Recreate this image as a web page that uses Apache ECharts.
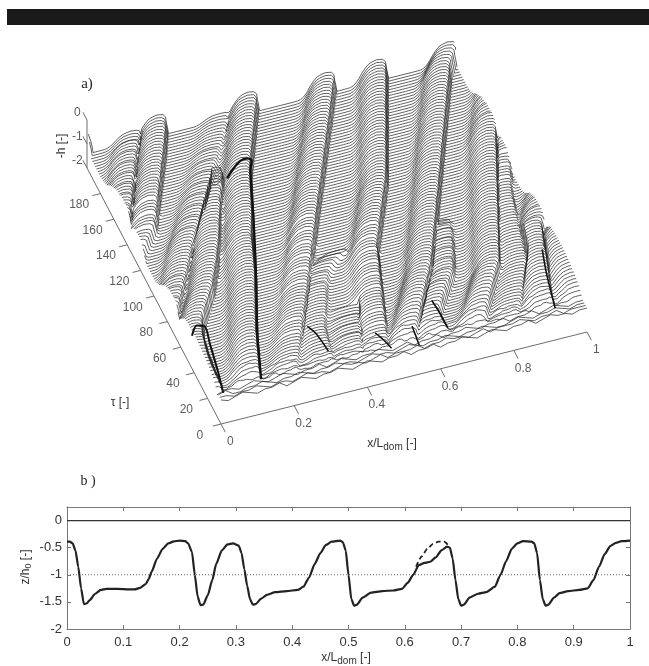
<!DOCTYPE html>
<html><head><meta charset="utf-8"><style>html,body{margin:0;padding:0;background:#fff}#c{width:649px;height:666px}</style>
<script src="https://cdn.jsdelivr.net/npm/echarts@6/dist/echarts.min.js"></script></head>
<body><div id="c"></div><script>
// PANEL A IS A RECONSTRUCTION. Each ridge's lee-face position per row
// (x/L in thousandths, rows every 2 tau from tau=8) and its crest height (tenths above z=-2, every 8 tau).
// Every row curve is then assembled from one shared profile (stossDx/stossH, wakeDx/wakeH)
// placed at those positions, so individual row curves are not traced point by point.
const frontRows = [ // tau 0,2,4,6: nearly flat, rough front rows
[10,9,10,11,10,9,10,10,11,9,10,11,10,9,10,10,11,10,9,10,11,10,9,10,10,11,9,10,10,11,9,10,10,11,10,9,10,11,10,9,10,10,11,9,10,11,10,10,9,10,10],
[10,10,9,10,10,11,10,9,10,10,9,10,11,10,10,9,10,11,10,10,9,10,11,9,10,10,10,11,9,10,10,11,10,10,9,10,11,9,10,10,10,11,10,9,10,10,11,9,10,10,10],
[10,11,9,9,10,10,11,10,9,10,10,11,10,9,10,10,11,10,10,9,10,11,10,10,9,10,11,10,9,10,10,11,10,9,10,10,11,10,9,9,10,11,10,9,10,10,11,10,9,10,10],
[9,10,10,9,10,11,10,9,10,11,10,9,10,10,11,9,10,11,10,9,10,10,11,10,9,10,11,9,10,10,11,9,10,10,11,10,9,10,10,11,9,10,10,11,9,10,11,10,9,10,10]
];
const roughFade = [.8,.6,.5,.4,.3]; // roughness left on rows tau 8..16
const rowGrowth = [.2,.35,.5,.6,.65,.7,.75,.8,.84,.88,.91,.94,.96,.98]; // tau 8..34, full size after
const stossDx = [0,.003,.005,.012,.03,.05,.06,.07,.08,.09,.10,.12];
const stossH  = [9.9,12,14.5,15.8,16.3,15.5,14,12,9.5,7.8,7.1,7];
const wakeDx  = [0,.003,.005,.01,.015,.025,.04,.06,.1];
const wakeH   = [9.9,7,5.5,4.3,4.5,5.8,6.7,7,7];
const leeA = [20,20,20,21,21,22,22,23,24,25,25,26,27,28,29,31,32,34,35,38,40,44,48,52,58,64,70,76,82,88,95,101,107,114,120,125,130,135,140,145,150,155,160,165,169,174,178,183,187,192,196,200,204,208,212,216,220,224,228,232,236,241,245,249,254,258,262,267,271,275,279,283,286];
const leeB = [126,128,130,133,136,139,142,145,148,151,154,157,160,163,166,169,172,176,179,183,186,190,193,197,200,204,207,211,214,218,221,225,228,232,235,239,242,245,248,251,254,257,260,263,266,269,272,274,278,282,285,289,293,296,300,304,308,311,314,318,321,324,328,331,334,338,341,344,348,351,354,358,362,366,370,375,379,384,388,393,397,402,406,411,415,420,424,429,433,438,442,447,451,456,460,465];
const leeC = [225,230,235,240,244,249,254,258,263,268,273,277,282,287,292,296,301,306,311,315,320,325,330,335,339,344,349,354,358,363,368,372,377,382,387,391,396,401,406,410,415,420,425,430,434,439,444,449,453,458,463,467,472,477,482,486,491,496,501,505,510,515,520,525,529,534,539,544,548,553,558,562,567,572,577,581,586,591,596,600,605,610,615,620,624,629,634,639,643,648,653,657,662,667,672,676];
const leeD = [326,328,330,332,333,335,337,339,340,342,344,346,348,350,354,358,362,367,371,375,379,383,387,391,394,398,402,406,410,415,420,426,432,439,448,458,470,484,500];
const leeE = [405,407,410,413,416,419,422,425,428,431,434,437,440,443,446,449,452,455,458,461];
const leeF = [476,478,480,483,486,489,491,494,497,500,503,505,508,511,514,517,519,522,525,528,531,533,536,539,542,544,547,550,553,556,558,561,564,567,569,574,578,583,588,593,598,602,607,612,617,621,626,631,636,640,645,650,655,659,664,669,674,678,682,686,690,693,697,700,704,708,711,715,719,722,726,730,733,737,741,744,748,752,755,759,762,766,770,773,777,781,784,788,792,795,799,803,806,810,814,817];
const leeG = [549,554,560,566,571,577,582,588,594,599,605,610,616,622,627,633,638,644,649,655,661,666,672,677,682,686,691,695,700,704,708,713,717,722,726,731,735,739,744,748,753,757,762,766,770,775,779,784,788,793,797,801,806,810,815,819,824,828,832,837,841,846,850,855,859,863,868,872,877,881,886,890,895,899,903,908,912,917,921,926,930,934,939,943,948,952,957,961,965,970,976,983,990,997,1004,1010];
const leeH = [640,640,640,640,640,640,640,640,646,653,660,666,673,680,686,693,700,706,713,720,726,730,734,738,741,745,748,752,755,758,762,765,768,772,775,778,780,782,784,786];
const leeI = [738,744,750,756,762,768,774,780,786,792,798,804,810,816,822,828,834,840,845,848,852,855,859,862,866,869,873,876,879,883,886,890,893,897,900,904,907,911,914,917,921,924,928,931,935,938,942,945,948,952,955,959,962,966,969,973,976,979,983,986,990,993,997,1000,1005,1009,1014,1018,1022,1027,1031,1036,1040,1044,1049,1053,1058,1062,1066,1071,1075,1080,1084,1088,1093,1097,1102,1106,1111,1116,1121,1126,1131,1136,1141,1146];
const leeJ = [830,835,840,845,850,855,860,865,870,875,880,884,889,894,899,904,909,914,919,922,924,926,928,930,932,934,936,938,940,942,944,946,948,950,952,954,956,958,960,962,964,966,968,970,973,976,979,983,986,989,992,995,999,1002,1006,1014,1022,1030,1038,1046,1054,1062,1066,1071,1076,1080,1085,1090,1094,1099,1104,1108,1113,1118,1122,1127,1132,1136,1141,1146,1150,1155,1160,1164,1169,1174,1178,1183,1187,1191,1195,1200,1204,1208,1212,1216];
const leeK = [925,928,930,933,935,938,940,943,945,948,950,953,955,958,960,963,965,968,970,973,975,978,980,983,985,988,990,997,1004,1009,1015,1020,1026,1031,1036,1042,1047,1053,1058,1063,1069,1074,1080,1085,1090,1096,1101,1107,1112,1117,1123,1128,1134,1140,1146,1152,1158,1164,1170,1176,1182,1188,1194,1200,1205,1211,1217,1223,1229,1235,1241,1247,1253,1258,1264,1270,1276,1282,1288,1294,1300,1306,1312,1317,1323,1329,1335,1341,1347,1353,1359,1365,1370,1376,1382,1388];
const crestA = [16];
const crestB = [16];
const crestC = [12,12,12,12.5,13,13,13,13.5,14,14.5,15,15.5,16];
const crestD = [11,11,11,11,11,11,11,10.5,10,9.5];
const crestE = [11,11,10,9,8];
const crestF = [12,12,12.5,13,13,13.5,14,14.5,15,15.5,16];
const crestG = [16];
const crestH = [14,14,14,14,13.5,13,12.5,12,11,10];
const crestI = [16,16,16,16,16,16,16,16,16,16,16,16,16,16,16,16,16,15.5,15,14.5,14,13.5,13,12];
const crestJ = [11,11,11,11,11,11,11,11,11,11,11,11,11.5,12,13,14,15,16];
const crestK = [16,16,16,16,16,16,16,15.5,15,14.5,14,14,14,14,13.5,13,12.5,12,11.5,11,10.5,10];
const ridges = [[leeA,crestA],[leeB,crestB],[leeC,crestC],[leeD,crestD],[leeE,crestE],[leeF,crestF],[leeG,crestG],[leeH,crestH],[leeI,crestI],[leeJ,crestJ],[leeK,crestK]];
// Emphasised traces in panel a: [x, tau, z]
const boldRidgeA = [[.028,12,-1.45],[.03,22,-1],[.032,34,-.6],[.036,44,-.42],[.018,46,-.42],[.005,46,-.8]];
const boldRidgeB = [[.135,14,-1.4],[.15,25,-1.1],[.172,40,-.9],[.242,80,-.9],[.308,120,-.9],[.355,150,-.8],[.362,152,-.5],[.35,152,-.38],[.33,152,-.42],[.31,152,-.7],[.295,152,-1]];
const boldRidgeC = [[.30,35,-.95],[.315,30,-1.05],[.33,20,-1.3]];
const boldRidgeD = [[.454,18,-.9],[.47,16,-1.1],[.488,12,-1.35]];
const boldRidgeE = [[.618,23,-.45],[.63,20,-.75],[.645,14,-1.2]];
const boldRidgeF = [[.56,10,-1.4],[.555,18,-1]];
const boldRidgeG = [[.935,12,-1.4],[.945,30,-1],[.96,45,-.8]];
const tauTicks = [0,20,40,60,80,100,120,140,160,180];
const xTicksA = [0,0.2,0.4,0.6,0.8,1];
const zTicksA = [0,-1,-2];
// Panel b
const profileSolid = [[0,-.39],[.005,-.39],[.01,-.42],[.015,-.55],[.02,-.85],[.025,-1.25],[.03,-1.54],[.035,-1.53],[.04,-1.47],[.05,-1.35],[.06,-1.28],[.07,-1.26],[.09,-1.26],[.11,-1.27],[.12,-1.27],[.13,-1.24],[.14,-1.17],[.145,-1.08],[.15,-.95],[.16,-.7],[.17,-.52],[.18,-.42],[.19,-.385],[.2,-.37],[.21,-.38],[.215,-.42],[.222,-.58],[.227,-1],[.232,-1.4],[.237,-1.56],[.242,-1.55],[.25,-1.38],[.258,-1.1],[.265,-.8],[.275,-.55],[.285,-.44],[.295,-.42],[.305,-.46],[.31,-.6],[.315,-.9],[.32,-1.2],[.325,-1.45],[.33,-1.55],[.335,-1.54],[.345,-1.44],[.355,-1.37],[.37,-1.32],[.39,-1.3],[.41,-1.28],[.42,-1.22],[.43,-1.05],[.44,-.8],[.45,-.6],[.46,-.45],[.47,-.39],[.485,-.37],[.49,-.4],[.495,-.55],[.5,-1],[.505,-1.45],[.51,-1.57],[.515,-1.55],[.525,-1.42],[.54,-1.33],[.56,-1.3],[.58,-1.29],[.595,-1.26],[.605,-1.15],[.615,-1],[.625,-.82],[.635,-.78],[.645,-.76],[.655,-.68],[.665,-.55],[.675,-.48],[.68,-.5],[.685,-.7],[.69,-1.1],[.695,-1.45],[.7,-1.57],[.705,-1.55],[.715,-1.42],[.73,-1.35],[.745,-1.32],[.76,-1.22],[.77,-1],[.78,-.75],[.79,-.52],[.8,-.42],[.81,-.38],[.825,-.39],[.83,-.42],[.835,-.6],[.84,-1.1],[.845,-1.45],[.85,-1.57],[.855,-1.55],[.865,-1.42],[.875,-1.34],[.89,-1.3],[.91,-1.28],[.925,-1.25],[.935,-1.1],[.945,-.85],[.955,-.62],[.965,-.47],[.975,-.41],[.985,-.38],[1,-.37]];
const profileDashed = [[.62,-.85],[.63,-.66],[.64,-.52],[.65,-.43],[.66,-.39],[.67,-.39],[.678,-.46]];
const zeroLine = [[0,0],[1,0]];
const refLine = [[0,-1],[1,-1]];

const P = (x,t,z)=>[221+366*x-0.67*t, 666-(424-92*x-1.28*t-24*(z+2))];
const lookup=(xs,ys,v)=>{ if(v>=xs[xs.length-1])return ys[ys.length-1];
  for(let i=1;i<xs.length;i++) if(v<=xs[i]) return ys[i-1]+(ys[i]-ys[i-1])*(v-xs[i-1])/(xs[i]-xs[i-1]); return ys[0]; };
const PLATEAU=7, REF=16.3;
const buildRow=(tau)=>{
  const r=(tau-8)/2, feats=[];
  ridges.forEach(([lee,crest])=>{ if(r<lee.length){
    const L=lee[r]/1000, c=crest[Math.min(Math.floor(r/4),crest.length-1)];
    [L-1,L,L+1].forEach(v=>feats.push([v,(c-PLATEAU)/(REF-PLATEAU)])); }});
  feats.sort((a,b)=>a[0]-b[0]);
  const xs=new Set(); for(let i=0;i<=250;i++) xs.add(i*0.004);
  feats.forEach(f=>{[-.005,-.003,0,.003,.005,.01].forEach(d=>{const v=+(f[0]+d).toFixed(4); if(v>=0&&v<=1) xs.add(v);});});
  const g=r<rowGrowth.length?rowGrowth[r]:1;
  return [...xs].sort((a,b)=>a-b).map(x=>{
    let k=feats.findIndex(f=>f[0]>=x); if(k<1)k=1;
    const next=feats[k], prev=feats[k-1];
    const sH=PLATEAU+(lookup(stossDx,stossH,next[0]-x)-PLATEAU)*next[1];
    const wH=PLATEAU+(lookup(wakeDx,wakeH,x-prev[0])-PLATEAU)*prev[1];
    let h=10+(Math.max(sH,wH)-10)*g;
    if(r<roughFade.length){ const c=Math.min(50,Math.round(x/0.02)); h+=(frontRows[r%4][c]-10)*roughFade[r]*(1-Math.abs(x/0.02-c)); }
    return P(x,tau,h/10-2);
  });
};
const series=[];
const rowSeries=d=>series.push({type:'line',xAxisIndex:0,yAxisIndex:0,silent:true,symbol:'none',sampling:null,data:d,
    lineStyle:{color:'#222',width:0.72},areaStyle:{color:'#fff',opacity:1,origin:'start'}});
const rowTaus=[]; for(let i=0;i<100;i++) rowTaus.push(i*2);
// draw order: back to front, so nearer rows hide farther ones
rowTaus.slice().reverse().forEach(t=>{
  if(t<8) rowSeries(frontRows[t/2].map((h,j)=>P(j*0.02,t,h/10-2)));
  else rowSeries(buildRow(t));
});
const line3 = (pts,w,c)=>series.push({type:'line',xAxisIndex:0,yAxisIndex:0,silent:true,symbol:'none',
  data:pts.map(p=>P(p[0],p[1],p[2])),lineStyle:{color:c,width:w}});
[[boldRidgeA,2],[boldRidgeB,2.3],[boldRidgeC,1.5],[boldRidgeD,1.5],[boldRidgeE,1.6],[boldRidgeF,1.5],[boldRidgeG,1.6]].forEach(([b,w])=>{
  series.push({type:'line',xAxisIndex:0,yAxisIndex:0,silent:true,symbol:'none',smooth:0.3,data:b.map(p=>P(p[0],p[1],p[2])),lineStyle:{color:'#111',width:w}});
});
const AX='#6e6e6e';
line3([[0,0,-2],[0,200,-2]],1,AX);
line3([[0,0,-2],[1,0,-2]],1,AX);
line3([[0,200,-2],[0,200,0]],1,AX);
tauTicks.forEach(t=>line3([[0,t,-2],[-0.022,t,-2]],1,AX));
xTicksA.forEach(x=>line3([[x,0,-2],[x,-6.4,-2]],1,AX));
zTicksA.forEach(z=>line3([[0,200,z],[0,206,z]],1,AX));
const lab3=(pts,off)=>series.push({type:'scatter',xAxisIndex:0,yAxisIndex:0,silent:true,symbolSize:0,z:20,
  data:pts,label:{show:true,position:'inside',offset:off,formatter:p=>p.value[2],fontFamily:'Liberation Sans',fontSize:12,color:'#333'}});
lab3(tauTicks.map(t=>[...P(-0.058,t,-2),String(t)]),[0,6]);
lab3(xTicksA.map(x=>[...P(x,-14,-2),String(x)]),[0,0]);
lab3(zTicksA.map(z=>[...P(0,213,z),String(z)]),[-1,9]);
// Panel b
const BC='#222';
series.push({type:'line',xAxisIndex:1,yAxisIndex:1,symbol:'none',silent:true,data:zeroLine,lineStyle:{color:'#333',width:1.3}});
series.push({type:'line',xAxisIndex:1,yAxisIndex:1,symbol:'none',silent:true,data:refLine,lineStyle:{color:'#666',width:1,type:[1,2]}});
series.push({type:'line',xAxisIndex:1,yAxisIndex:1,symbol:'none',silent:true,smooth:0.2,smoothMonotone:'x',data:profileDashed,lineStyle:{color:BC,width:1.8,type:[5,3]}});
series.push({type:'line',xAxisIndex:1,yAxisIndex:1,symbol:'none',silent:true,smooth:0.2,smoothMonotone:'x',data:profileSolid,lineStyle:{color:BC,width:2.2}});

const lblStyle={color:'#333',fontFamily:'Liberation Sans',fontSize:13};
const frame={show:true,onZero:false,lineStyle:{color:'#777',width:1}};
const tk={show:true,inside:true,length:4,lineStyle:{color:'#777'}};
const txt=(x,y,text,extra)=>({type:'text',z:50,x,y,rotation:(extra&&extra.rot)||0,style:Object.assign({text,fill:'#333',font:'12px "Liberation Sans"',align:'center',verticalAlign:'middle'},extra&&extra.style)});
const lxRich={a:{fontFamily:'Liberation Sans',fontSize:12,fill:'#333',color:'#333'},b:{fontFamily:'Liberation Sans',fontSize:10,fill:'#333',color:'#333',padding:[7,0,0,0]}};
const opt={animation:false,backgroundColor:'#fff',
 grid:[{left:0,top:0,width:649,height:455},{left:67,top:507,width:563,height:122}],
 xAxis:[
  {gridIndex:0,type:'value',min:0,max:649,show:false},
  {gridIndex:1,type:'value',min:0,max:1,interval:0.1,position:'bottom',axisLine:frame,axisTick:tk,splitLine:{show:false},
   axisLabel:{...lblStyle,margin:7,formatter:v=>String(+v.toFixed(1)),hideOverlap:false}},
  {gridIndex:1,type:'value',min:0,max:1,interval:0.1,position:'top',axisLine:frame,axisTick:tk,axisLabel:{show:false},splitLine:{show:false}}
 ],
 yAxis:[
  {gridIndex:0,type:'value',min:211,max:666,show:false},
  {gridIndex:1,type:'value',min:-2,max:0.25,interval:0.5,position:'left',axisLine:frame,axisTick:tk,splitLine:{show:false},
   axisLabel:{...lblStyle,margin:5,showMaxLabel:false,formatter:v=>v>0?'':String(v)}},
  {gridIndex:1,type:'value',min:-2,max:0.25,interval:0.5,position:'right',axisLine:frame,axisTick:tk,axisLabel:{show:false},splitLine:{show:false}}
 ],
 series,
 graphic:[
  {type:'rect',z:50,shape:{x:7,y:9,width:642,height:16},style:{fill:'#1a1a1a'}},
  txt(87,84,'a)',{style:{font:'15px "Liberation Serif"',fill:'#222'}}),
  txt(88,481,'b )',{style:{font:'14px "Liberation Serif"',fill:'#222'}}),
  txt(62,146,'-h [-]',{rot:Math.PI/2}),
  txt(120,403,'τ [-]'),
  txt(392,444,'',{style:{rich:lxRich,text:'{a|x/L}{b|dom}{a| [-]}'}}),
  txt(346,658,'',{style:{rich:lxRich,text:'{a|x/L}{b|dom}{a| [-]}'}}),
  txt(26,567,'',{rot:Math.PI/2,style:{rich:{a:{fontFamily:'Liberation Sans',fontSize:12,fill:'#333',color:'#333'},b:{fontFamily:'Liberation Sans',fontSize:9,fill:'#333',color:'#333',padding:[6,0,0,0]}},text:'{a|z/h}{b|0}{a| [-]}'}})
 ]
};
echarts.init(document.getElementById('c'),null,{renderer:'canvas'}).setOption(opt);
</script></body></html>
